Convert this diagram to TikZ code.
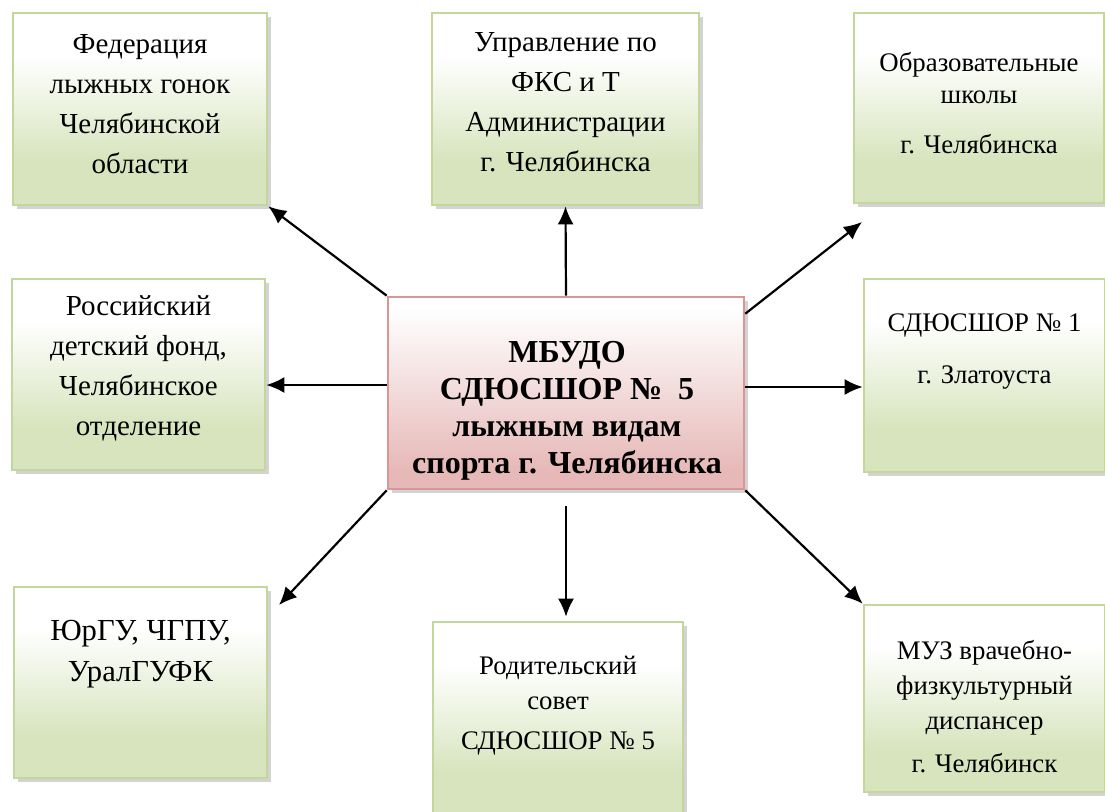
\documentclass[tikz,border=0pt]{standalone}
\usepackage{fontspec}
\setmainfont{Liberation Serif}
\usepackage{xcolor}
\usetikzlibrary{arrows.meta,positioning,shadows}
\definecolor{leafgreen}{RGB}{215,228,189}
\definecolor{leafline}{RGB}{195,214,155}
\definecolor{rosepink}{RGB}{230,185,184}
\definecolor{roseline}{RGB}{217,150,148}
\pgfdeclareverticalshading{greenfade}{100bp}{color(0bp)=(leafgreen); color(36bp)=(leafgreen); color(64bp)=(white); color(100bp)=(white)}
\pgfdeclareverticalshading{pinkfade}{100bp}{color(0bp)=(rosepink); color(30bp)=(rosepink); color(72bp)=(white); color(100bp)=(white)}

\tikzset{
  partnerbox/.style={rectangle, inner sep=0pt, draw=leafline, line width=1.3pt, shading=greenfade,
    drop shadow={shadow xshift=2pt, shadow yshift=-2pt, opacity=0.35}},
  schoolbox/.style={rectangle, inner sep=0pt, draw=roseline, line width=1.3pt, shading=pinkfade,
    drop shadow={shadow xshift=2pt, shadow yshift=-2pt, opacity=0.35}},
  boxtext/.style={align=center, inner sep=0pt, font=\fontsize{14.5}{20}\selectfont},
  smalltext/.style={align=center, inner sep=0pt, font=\fontsize{13.4}{#1}\selectfont},
  schooltext/.style={align=center, inner sep=0pt, font=\bfseries\fontsize{16}{18.5}\selectfont},
  link/.style={-{Latex[length=9pt,width=8pt]}, line width=1.1pt},
}

\begin{document}
\begin{tikzpicture}[x=0.5pt, y=-0.5pt]
        \useasboundingbox (0,0) rectangle (1105,811);

        % Boxes
        \node[partnerbox, minimum width=127pt, minimum height=96pt] (fed) at (140,109) {};
        \node[partnerbox, minimum width=133.5pt, minimum height=96pt] (upr) at (565.5,109) {};
        \node[partnerbox, minimum width=125pt, minimum height=95pt] (obr) at (979,108) {};
        \node[partnerbox, minimum width=126.5pt, minimum height=95.5pt] (ros) at (138.5,374.5) {};
        \node[schoolbox, minimum width=178pt, minimum height=96pt] (main) at (566,393) {};
        \node[partnerbox, minimum width=120.5pt, minimum height=96.5pt] (zlat) at (984.5,375.5) {};
        \node[partnerbox, minimum width=126.5pt, minimum height=95.5pt] (yurgu) at (140.5,682.5) {};
        \node[partnerbox, minimum width=125pt, minimum height=96.5pt] (rod) at (558,718.5) {};
        \node[partnerbox, minimum width=120.5pt, minimum height=93.5pt] (muz) at (984.5,698.5) {};

        % Texts
        \node[boxtext] (fed-t) at (140,104) {Федерация\\лыжных гонок\\Челябинской\\области};
        \node[boxtext] (upr-t) at (565.5,102) {Управление по\\ФКС и Т\\Администрации\\г. Челябинска};
        \node[smalltext=16] (obr-t) at (979,103) {Образовательные\\школы\\[9pt]г. Челябинска};
        \node[boxtext] (ros-t) at (138.5,368) {Российский\\детский фонд,\\Челябинское\\отделение};
        \node[schooltext] (main-t) at (567,411) {МБУДО\\СДЮСШОР №~~5\\лыжным видам\\спорта г. Челябинска};
        \node[smalltext=26] (zlat-t) at (984.5,352) {СДЮСШОР № 1\\г. Златоуста};
        \node[boxtext, font=\fontsize{15.3}{20.5}\selectfont] (yurgu-t) at (140.5,654) {ЮрГУ, ЧГПУ,\\УралГУФК};
        \node[smalltext=17.5] (rod-t) at (558,706) {Родительский\\совет\\[2.5pt]СДЮСШОР № 5};
        \node[smalltext=17.5] (muz-t) at (984.5,707) {МУЗ врачебно-\\физкультурный\\диспансер\\[4pt]г. Челябинск};

        % Arrow ends
        \coordinate (obr-in) at (862,222);
        \coordinate (yurgu-in) at (279,605);

        % Arrows
        \draw[link] (main.north west) -- (fed.south east);
        \draw[link] (main.north) -- (upr.south);
        \draw[link] ([yshift=-9pt]main.north east) -- (obr-in);
        \draw[link] ([yshift=4pt]main.west) -- ([yshift=4pt]main.west -| ros.east);
        \draw[link] ([yshift=3pt]main.east) -- ([yshift=3pt]main.east -| zlat.west);
        \draw[link] (main.south west) -- (yurgu-in);
        \draw[link, shorten >=2pt] ([yshift=-8pt]main.south) -- (main.south |- rod.north);
        \draw[link] (main.south east) -- (muz.north west);
    \end{tikzpicture}
\end{document}
